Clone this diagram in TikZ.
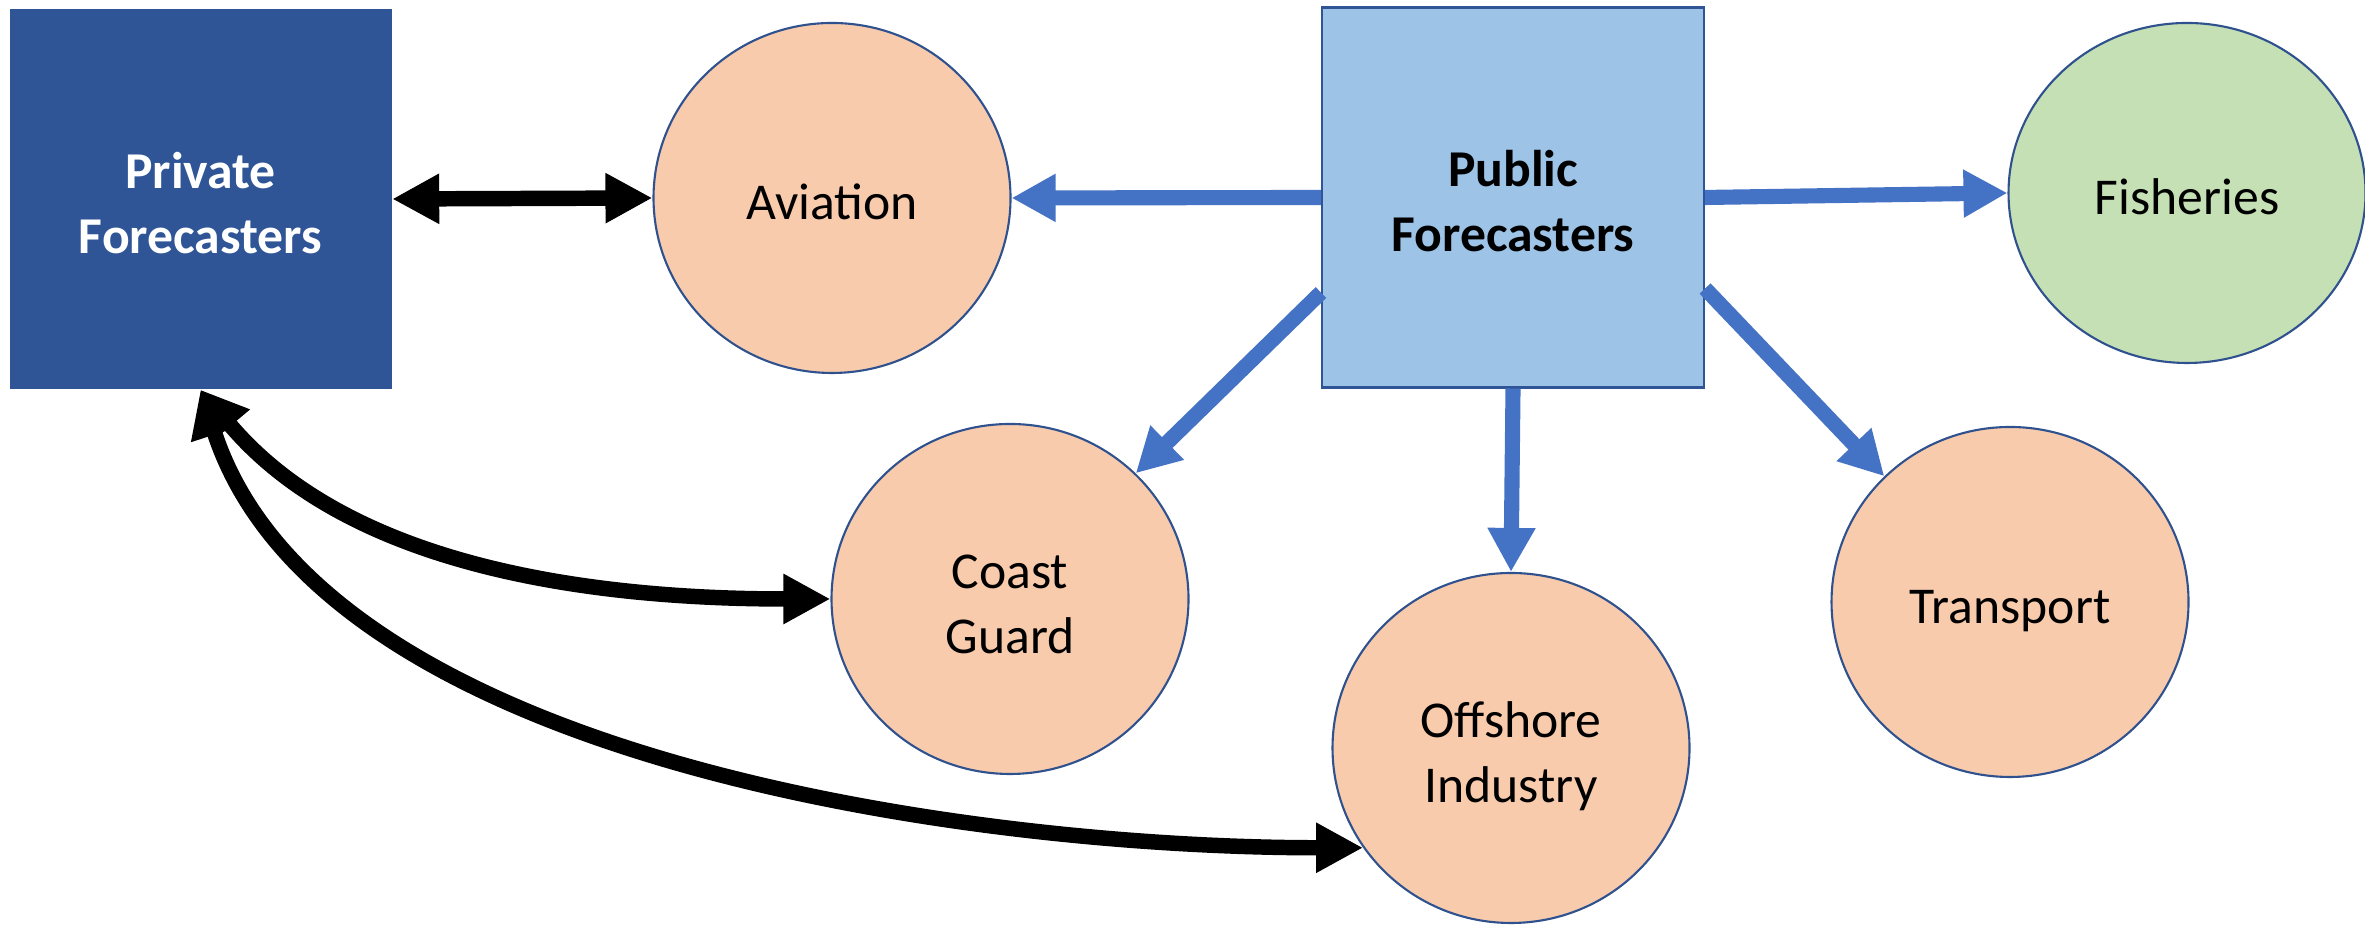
\documentclass[tikz,border=0pt]{standalone}
\usepackage{fontspec}
\setmainfont{Carlito}
\usetikzlibrary{arrows.meta,shapes.geometric}

\definecolor{privblue}{HTML}{2F5597}
\definecolor{pubfill}{HTML}{9DC3E6}
\definecolor{edgeblue}{HTML}{2F528F}
\definecolor{userfill}{HTML}{F8CBAD}
\definecolor{fishfill}{HTML}{C5E0B4}
\definecolor{arrowblue}{HTML}{4472C4}

% line struts, so that text sits as in the slide
\newcommand{\topline}{\rule{0pt}{1.11em}}

\begin{document}
\begin{tikzpicture}[
    every node/.style={font=\fontsize{14.7}{18.5}\selectfont,
      execute at begin node={\topline},
      execute at end node={\rule[-0.27em]{0pt}{0.27em}}},
    box/.style={rectangle, minimum width=3.82cm, minimum height=3.8cm, align=center, inner sep=0pt},
    user/.style={ellipse, draw=edgeblue, line width=0.6pt, fill=userfill, minimum width=3.57cm, minimum height=3.5cm, align=center, inner sep=0pt},
    link/.style={line width=4.4pt, {Triangle[length=0.47cm,width=0.47cm]}-{Triangle[length=0.47cm,width=0.47cm]}},
    feed/.style={line width=4.3pt, arrowblue, -{Triangle[length=0.44cm,width=0.45cm]}}
  ]

          \useasboundingbox (0,0) rectangle (23.65,9.25);

          \node[box, fill=privblue, text=white, font=\fontsize{14.7}{18.5}\selectfont\bfseries] (priv) at (2.005,7.26) {\topline Private\\Forecasters};
          \node[box, fill=pubfill, draw=privblue, line width=0.6pt, font=\fontsize{14.7}{18.5}\selectfont\bfseries] (pub) at (15.13,7.275) {\topline Public\\Forecasters};

          \node[user] (avi) at (8.32,7.27) {Aviation};
          \node[user, fill=fishfill, minimum height=3.4cm] (fish) at (21.87,7.32) {Fisheries};
          \node[user] (cg) at (10.10,3.26) {\topline Coast\\Guard};
          \node[user] (off) at (15.11,1.77) {\topline Offshore\\Industry};
          \node[user] (trans) at (20.10,3.23) {Transport};

          \draw[link] (priv.east) -- (avi.west);
          \draw[link] (priv.south) to[out=-50,in=180,looseness=0.9] (cg.west);
          \draw[link] (priv.south) to[out=-72,in=180,looseness=0.8] (off.214);

          \draw[feed] (pub.west) -- (avi.east);
          \draw[feed] (pub.east) -- (fish.west);
          \draw[feed] (pub.south) -- (off.north);
          \draw[feed] ([yshift=0.96cm]pub.south west) -- (cg.45);
          \draw[feed] ([yshift=1cm]pub.south east) -- (trans.135);

        \end{tikzpicture}
\end{document}
